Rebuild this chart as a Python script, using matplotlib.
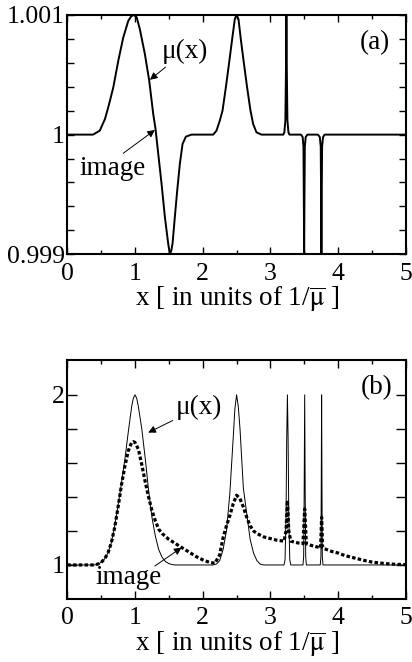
import matplotlib
matplotlib.use("Agg")
import matplotlib.pyplot as plt

plt.rcParams['font.family'] = ['Liberation Serif', 'DejaVu Serif']
plt.rcParams['mathtext.fontset'] = 'stix'

# ---------------- data: panel (a) -----------------
xa = [0.00, 0.38, 0.48, 0.556, 0.605, 0.679, 0.753, 0.826, 0.90, 0.945, 0.984,
      1.025, 1.072, 1.146, 1.21, 1.269, 1.303, 1.343, 1.392, 1.441, 1.49, 1.515,
      1.535, 1.554, 1.588, 1.623, 1.662, 1.702, 1.751, 1.834,
      2.154, 2.203, 2.252, 2.292, 2.341, 2.39, 2.434, 2.473, 2.498, 2.528, 2.562,
      2.606, 2.655, 2.705, 2.744, 2.793, 2.867,
      3.19, 3.205, 3.22, 3.228, 3.235, 3.242, 3.25, 3.265, 3.28,
      3.45, 3.475, 3.487, 3.492, 3.497, 3.502, 3.507, 3.52, 3.545,
      3.70, 3.728, 3.742, 3.747, 3.752, 3.757, 3.762, 3.776, 3.80,
      5.00]
mu_a = [1.0, 1.0, 1.0000333, 1.00013, 1.000228, 1.000394, 1.000617, 1.000811, 1.00095, 1.00099, 1.001,
        1.00098, 1.00088, 1.000672, 1.00045, 1.000172, 1.000047, 0.999839, 0.999589, 0.999311, 0.999089, 0.999,
        0.99903, 0.999089, 0.999311, 0.999533, 0.999756, 0.999922, 0.999983, 1.0,
        1.0, 1.000033, 1.000117, 1.0002, 1.000394, 1.000603, 1.000797, 1.000964, 1.001, 1.000964, 1.000797,
        1.000603, 1.000394, 1.0002, 1.000089, 1.000019, 1.0,
        1.0, 1.00002, 1.00012, 1.0005, 1.001, 1.0005, 1.00012, 1.00002, 1.0,
        1.0, 0.99998, 0.9999, 0.9995, 0.999, 0.9995, 0.9999, 0.99998, 1.0,
        1.0, 0.99998, 0.9999, 0.9995, 0.999, 0.9995, 0.9999, 0.99998, 1.0,
        1.0]

# ---------------- data: panel (b) -----------------
xb_mu = [0.00, 0.40, 0.45, 0.50, 0.55, 0.60, 0.65, 0.70, 0.75, 0.80, 0.85, 0.90, 0.95, 0.975,
         1.00, 1.025, 1.05, 1.10, 1.15, 1.20, 1.25, 1.30, 1.35, 1.40, 1.45, 1.50, 1.55, 1.60,
         2.15, 2.20, 2.25, 2.30, 2.35, 2.40, 2.45, 2.475, 2.50, 2.525, 2.55, 2.60, 2.65,
         2.70, 2.75, 2.80, 2.85, 2.90,
         3.20, 3.215, 3.23, 3.24, 3.25, 3.26, 3.27, 3.285, 3.30,
         3.48, 3.49, 3.497, 3.505, 3.513, 3.52, 3.53,
         3.735, 3.745, 3.75, 3.755, 3.76, 3.765, 3.775,
         5.00]
mu_b = [1.0, 1.0, 1.005, 1.015, 1.035, 1.07, 1.13, 1.23, 1.35, 1.48, 1.62, 1.78, 1.93, 1.98,
        2.00, 1.98, 1.93, 1.80, 1.63, 1.44, 1.28, 1.17, 1.09, 1.045, 1.02, 1.008, 1.002, 1.0,
        1.0, 1.005, 1.025, 1.09, 1.20, 1.42, 1.75, 1.92, 2.00, 1.93, 1.80, 1.45, 1.30,
        1.15, 1.07, 1.025, 1.005, 1.0,
        1.0, 1.03, 1.3, 1.75, 2.0, 1.75, 1.3, 1.03, 1.0,
        1.0, 1.05, 1.4, 2.0, 1.4, 1.05, 1.0,
        1.0, 1.05, 1.5, 2.0, 1.5, 1.05, 1.0,
        1.0]

xb_img = [0.00, 0.40, 0.45, 0.50, 0.55, 0.60, 0.65, 0.70, 0.75, 0.80, 0.85, 0.90, 0.95, 0.975,
          1.00, 1.05, 1.10, 1.15, 1.20, 1.25, 1.30, 1.35, 1.40, 1.50, 1.60, 1.70, 1.80, 1.90,
          2.00, 2.10, 2.18, 2.25, 2.30, 2.35, 2.40, 2.45, 2.50, 2.55, 2.60, 2.65, 2.70, 2.75,
          2.80, 2.90, 3.00, 3.10, 3.20, 3.23, 3.25, 3.27, 3.30, 3.40, 3.48, 3.505, 3.53,
          3.60, 3.70, 3.74, 3.755, 3.77, 3.80, 3.90, 4.00, 4.10, 4.20, 4.30, 4.40, 4.50,
          4.60, 4.70, 4.80, 4.90, 5.00]
img_b = [1.0, 1.0, 1.005, 1.015, 1.035, 1.07, 1.13, 1.22, 1.34, 1.47, 1.58, 1.67, 1.72, 1.725,
         1.72, 1.68, 1.59, 1.49, 1.40, 1.32, 1.26, 1.21, 1.185, 1.15, 1.125, 1.10, 1.075, 1.05,
         1.03, 1.015, 1.01, 1.06, 1.16, 1.23, 1.29, 1.36, 1.41, 1.39, 1.34, 1.28, 1.23, 1.20,
         1.185, 1.165, 1.155, 1.145, 1.14, 1.2, 1.38, 1.2, 1.14, 1.13, 1.125, 1.33, 1.125,
         1.115, 1.105, 1.10, 1.28, 1.10, 1.095, 1.08, 1.07, 1.055, 1.045, 1.035, 1.025, 1.017,
         1.012, 1.008, 1.005, 1.003, 1.002]

xticks = [0, 1, 2, 3, 4, 5]
xminor = [0.5, 1.5, 2.5, 3.5, 4.5]
yticks_a = [0.999, 1.0, 1.001]
yticklabels_a = ['0.999', '1', '1.001']
yminor_a = [0.9992, 0.9994, 0.9996, 0.9998, 1.0002, 1.0004, 1.0006, 1.0008]
yticks_b = [1.0, 2.0]
yticklabels_b = ['1', '2']
yminor_b = [1.2, 1.4, 1.6, 1.8]

xlabel = r'x [ in units of 1/$\overline{\mathrm{\mu}}$ ]'

fig = plt.figure(figsize=(4.12, 6.62), dpi=100)
ax1 = fig.add_axes([0.1633, 0.6159, 0.822, 0.3615])
ax2 = fig.add_axes([0.1633, 0.0952, 0.822, 0.361])

TICKFS = 18.5
LABFS = 19.5
ANNFS = 19.5

def style(ax, yt, ytl, ymin):
    ax.set_xlim(0, 5)
    ax.set_xticks(xticks)
    ax.set_xticklabels([str(t) for t in xticks])
    ax.set_xticks(xminor, minor=True)
    ax.set_yticks(yt)
    ax.set_yticklabels(ytl)
    ax.set_yticks(ymin, minor=True)
    ax.tick_params(axis='both', which='both', direction='in', top=True, right=True,
                   labelsize=TICKFS, width=1.0, colors='black')
    ax.tick_params(axis='x', which='major', length=5, pad=6)
    ax.tick_params(axis='x', which='minor', length=3)
    ax.tick_params(axis='y', which='both', length=5, pad=2)
    for s in ax.spines.values():
        s.set_linewidth(1.5)
    ax.set_xlabel(xlabel, fontsize=LABFS, labelpad=0)

# panel (a)
ax1.plot(xa, mu_a, color='black', lw=1.4)
ax1.set_ylim(0.999, 1.001)
style(ax1, yticks_a, yticklabels_a, yminor_a)
ax1.text(4.54, 1.000767, '(a)', fontsize=ANNFS, ha='center', va='center')
arrow = dict(arrowstyle='-|>', color='black', lw=0.7, mutation_scale=11, shrinkA=0, shrinkB=0)
ax1.annotate('μ(x)', xy=(1.22, 1.000458), xytext=(1.73, 1.000692), fontsize=ANNFS,
             ha='center', va='center', arrowprops=arrow)
ax1.annotate('', xy=(1.294, 1.000039), xytext=(0.826, 0.999844), arrowprops=arrow)
ax1.text(0.667, 0.99972, 'image', fontsize=ANNFS, ha='center', va='center')

# panel (b)
ax2.plot(xb_mu, mu_b, color='black', lw=0.7)
ax2.plot(xb_img, img_b, color='black', lw=2.3, linestyle=(0, (1.1, 0.7)))
ax2.set_ylim(0.8, 2.205)
style(ax2, yticks_b, yticklabels_b, yminor_b)
ax2.tick_params(axis='y', which='both', length=7)
ax2.tick_params(axis='x', which='major', length=6)
ax2.text(4.57, 2.04, '(b)', fontsize=ANNFS, ha='center', va='center')
ax2.annotate('μ(x)', xy=(1.195, 1.778), xytext=(1.94, 1.925), fontsize=ANNFS,
             ha='center', va='center', arrowprops=arrow)
ax2.annotate('', xy=(1.687, 1.102), xytext=(1.293, 0.994), arrowprops=arrow)
ax2.text(0.912, 0.924, 'image', fontsize=ANNFS, ha='center', va='center')

fig.savefig('out.png', dpi=100)
